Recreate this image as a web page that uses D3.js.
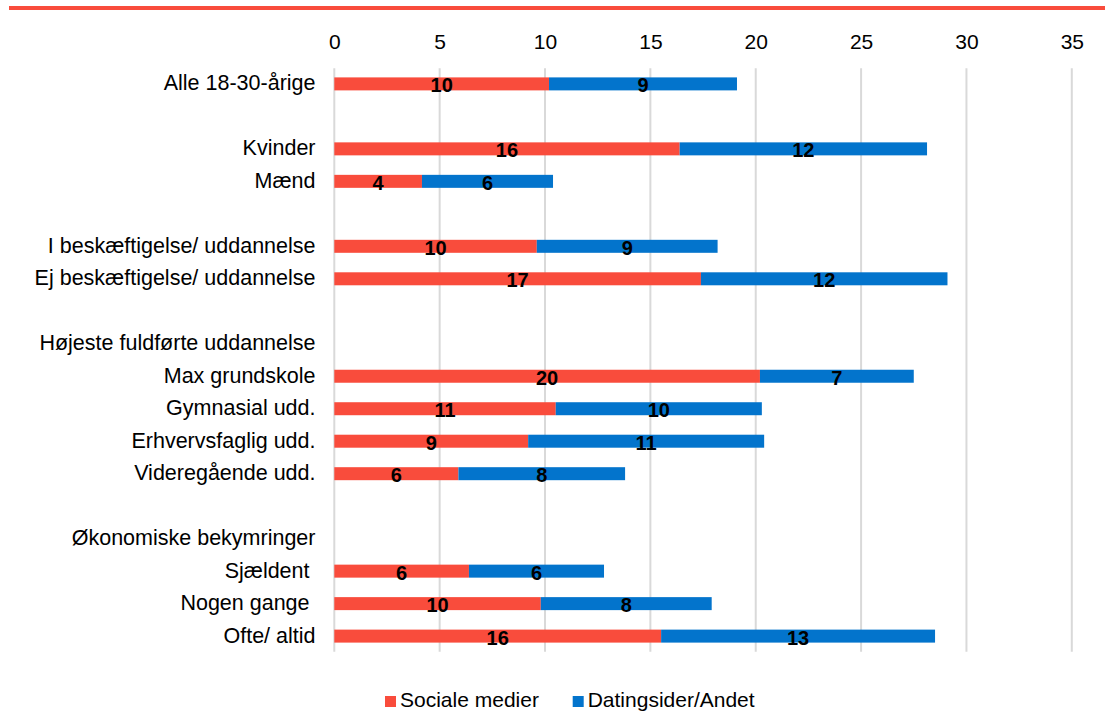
<!DOCTYPE html>
<html>
<head>
<meta charset="utf-8">
<script src="https://cdn.jsdelivr.net/npm/d3@7"></script>
<style>
  html, body { margin: 0; padding: 0; background: #fff; }
  svg { display: block; font-family: "Liberation Sans", Arial, Helvetica, sans-serif; }
</style>
</head>
<body>
<svg id="chart" width="1105" height="713"></svg>
<script>
// ---- Data ----
const categories = [
  "Alle 18-30-årige", "",
  "Kvinder", "Mænd", "",
  "I beskæftigelse/ uddannelse", "Ej beskæftigelse/ uddannelse", "",
  "Højeste fuldførte uddannelse",
  "Max grundskole", "Gymnasial udd.", "Erhvervsfaglig udd.", "Videregående udd.", "",
  "Økonomiske bekymringer",
  "Sjældent ", "Nogen gange ", "Ofte/ altid"
];
// null = no bar (blank spacer or group header)
const socialeMedier = [10.19, null, 16.39, 4.16, null, 9.61, 17.40, null, null, 20.20, 10.51, 9.20, 5.89, null, null, 6.39, 9.80, 15.51];
const datingsider   = [8.92, null, 11.74, 6.22, null, 8.58, 11.70, null, null, 7.30, 9.78, 11.20, 7.91, null, null, 6.41, 8.11, 13.00];
const seriesNames = ["Sociale medier", "Datingsider/Andet"];
const seriesColors = ["#F94C3C", "#0374CC"];
const xTicks = [0, 5, 10, 15, 20, 25, 30, 35];

// ---- Layout ----
const svg = d3.select("#chart");
const W = 1105;
const x = d3.scaleLinear().domain([0, 35]).range([334.3, 1071.8]);
const y = d3.scaleBand().domain(d3.range(categories.length)).range([68.3, 651.7])
  .paddingInner(0.6).paddingOuter(0.28);

// top red rule
svg.append("rect").attr("x", 9).attr("y", 6).attr("width", W - 9).attr("height", 4)
  .attr("fill", seriesColors[0]);

// gridlines
svg.append("g").selectAll("line").data(xTicks).join("line")
  .attr("x1", d => x(d)).attr("x2", d => x(d))
  .attr("y1", 68.3).attr("y2", 651.7)
  .attr("stroke", "#d9d9d9").attr("stroke-width", 2);

// top axis
const axis = svg.append("g").attr("transform", "translate(0,68.3)")
  .call(d3.axisTop(x).tickValues(xTicks).tickSize(0).tickFormat(d3.format("d")));
axis.select(".domain").remove();
axis.selectAll("text")
  .attr("y", -19).attr("dy", 0)
  .attr("font-size", 21).attr("font-family", "'Liberation Sans', Arial, sans-serif")
  .attr("fill", "#000");

// category labels
svg.append("g").selectAll("text").data(categories).join("text")
  .attr("x", 315.5)
  .attr("y", (d, i) => y(i) + y.bandwidth() / 2)
  .attr("dy", "0.3em")
  .attr("text-anchor", "end")
  .attr("font-size", 21.5)
  .style("white-space", "pre")
  .attr("fill", "#000")
  .text(d => d);

// stacked bars
const rows = categories.map((c, i) => ({ i, a: socialeMedier[i], b: datingsider[i] }))
  .filter(r => r.a != null);
const segs = [];
rows.forEach(r => {
  segs.push({ i: r.i, x0: 0, x1: r.a, v: r.a, s: 0 });
  segs.push({ i: r.i, x0: r.a, x1: r.a + r.b, v: r.b, s: 1 });
});
svg.append("g").selectAll("rect").data(segs).join("rect")
  .attr("x", d => x(d.x0))
  .attr("y", d => y(d.i))
  .attr("width", d => x(d.x1) - x(d.x0))
  .attr("height", y.bandwidth())
  .attr("fill", d => seriesColors[d.s]);

// data labels
const fmt = d3.format(".0f");
svg.append("g").selectAll("text").data(segs).join("text")
  .attr("x", d => (x(d.x0) + x(d.x1)) / 2)
  .attr("y", d => y(d.i) + y.bandwidth() / 2 + 8.4)
  .attr("text-anchor", "middle")
  .attr("font-size", 20)
  .attr("font-weight", "bold")
  .attr("fill", "#000")
  .text(d => fmt(d.v));

// legend
const legendX = [385, 572.7];
const lg = svg.append("g");
seriesNames.forEach((name, k) => {
  lg.append("rect").attr("x", legendX[k]).attr("y", 696).attr("width", 11).attr("height", 11)
    .attr("fill", seriesColors[k]);
  lg.append("text").attr("x", legendX[k] + 15).attr("y", 707)
    .attr("font-size", 21).attr("fill", "#000").text(name);
});
</script>
</body>
</html>
